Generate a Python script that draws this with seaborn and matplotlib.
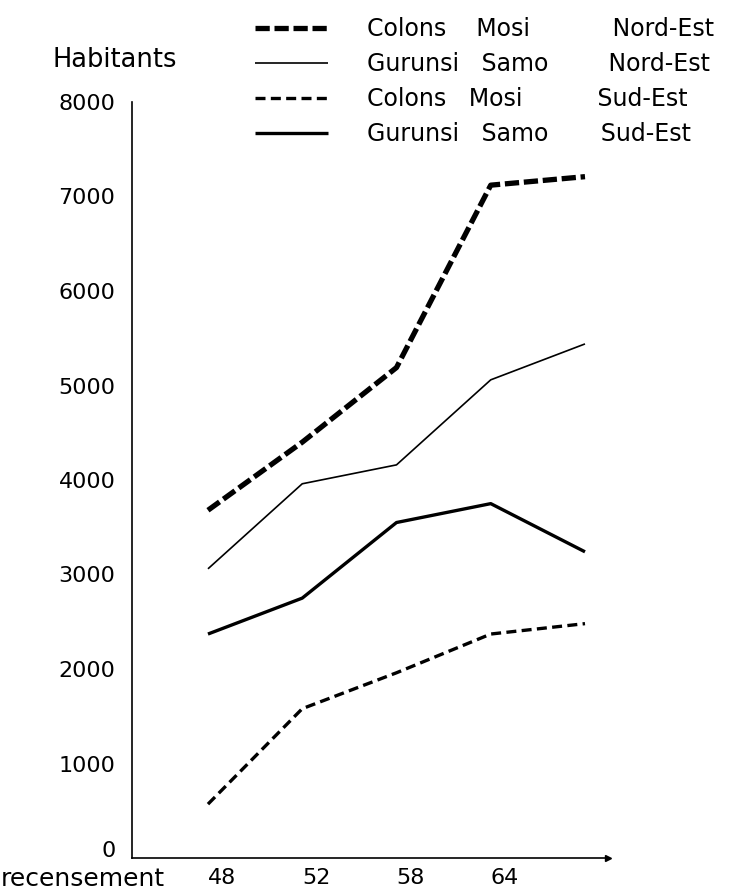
import matplotlib
matplotlib.use("Agg")
import matplotlib.pyplot as plt
import matplotlib.transforms as mtransforms
import seaborn as sns
import pandas as pd

# ---- data ----
census_labels = ["48", "52", "58", "64", ""]
series_names = [
    "Colons Mosi Nord-Est",
    "Gurunsi Samo Nord-Est",
    "Colons Mosi Sud-Est",
    "Gurunsi Samo Sud-Est",
]
legend_labels = [
    "Colons    Mosi           Nord-Est",
    "Gurunsi   Samo        Nord-Est",
    "Colons   Mosi          Sud-Est",
    "Gurunsi   Samo       Sud-Est",
]
colons_mosi_ne = [3680, 4400, 5190, 7120, 7210]
gurunsi_samo_ne = [3060, 3960, 4160, 5060, 5440]
colons_mosi_se = [570, 1580, 1960, 2370, 2480]
gurunsi_samo_se = [2370, 2750, 3550, 3750, 3240]
y_ticks = [0, 1000, 2000, 3000, 4000, 5000, 6000, 7000, 8000]

values = [colons_mosi_ne, gurunsi_samo_ne, colons_mosi_se, gurunsi_samo_se]
styles = [
    dict(lw=3.8, linestyle=(0, (2.7, 0.9))),
    dict(lw=1.2, linestyle="-"),
    dict(lw=2.4, linestyle=(0, (3.0, 1.6))),
    dict(lw=2.4, linestyle="-"),
]

sns.set_theme(style="white")
plt.rcParams["font.family"] = ["DejaVu Sans"]
plt.rcParams["text.color"] = "black"

W, H = 746, 892
fig = plt.figure(figsize=(W / 100, H / 100), dpi=100)
ax_left, ax_right, ax_bottom, ax_top = 132, 608, 858, 102
ax = fig.add_axes([ax_left / W, (H - ax_bottom) / H,
                   (ax_right - ax_left) / W, (ax_bottom - ax_top) / H])

for name, vals, st in zip(legend_labels, values, styles):
    df = pd.DataFrame({"idx": range(len(vals)), "val": vals})
    sns.lineplot(data=df, x="idx", y="val", ax=ax, color="black",
                 label=name, solid_capstyle="butt", dash_capstyle="butt", **st)

ax.set_xlim(-0.806, 4.244)
ax.set_ylim(0, 8000)
ax.set_yticks(y_ticks)
ax.set_yticklabels([str(v) for v in y_ticks])
ax.set_xticks(range(4))
ax.set_xticklabels(census_labels[:4])
ax.set_xlabel("")
ax.set_ylabel("")

for s in ["top", "right"]:
    ax.spines[s].set_visible(False)
for s in ["left", "bottom"]:
    ax.spines[s].set_color("black")
    ax.spines[s].set_linewidth(1.2)
ax.spines["left"].set_linestyle((0, (6, 1)))

ax.tick_params(axis="y", direction="inout", length=5, width=1, pad=9.5,
               labelsize=16, colors="black")
ax.tick_params(axis="x", direction="inout", length=5, width=1, pad=5.0,
               labelsize=16, colors="black")
ax.plot(1, 0, ">", color="black", markersize=5, transform=ax.transAxes,
        clip_on=False)

# x labels start at their tick; "0" label sits a little above the axis
for lab in ax.get_xticklabels():
    lab.set_horizontalalignment("left")
ylabs = ax.get_yticklabels()
ylabs[0].set_transform(ylabs[0].get_transform() +
                       mtransforms.ScaledTranslation(0, 9 / 100, fig.dpi_scale_trans))

fig.text(1 / W, 1 - 879 / H, "recensement", fontsize=18, va="center", ha="left")
fig.text(52 / W, 1 - 60 / H, "Habitants", fontsize=18.5, va="center", ha="left")

handles, labels = ax.get_legend_handles_labels()
ax.get_legend().remove()
fig.legend(handles, labels, loc="upper left",
           bbox_to_anchor=(255 / W, 1 - 17 / H), frameon=False,
           fontsize=17, handlelength=3.1, handletextpad=1.65,
           labelspacing=0.47, borderpad=0, borderaxespad=0,
           labelcolor="black")

fig.savefig("out.png", dpi=100)
